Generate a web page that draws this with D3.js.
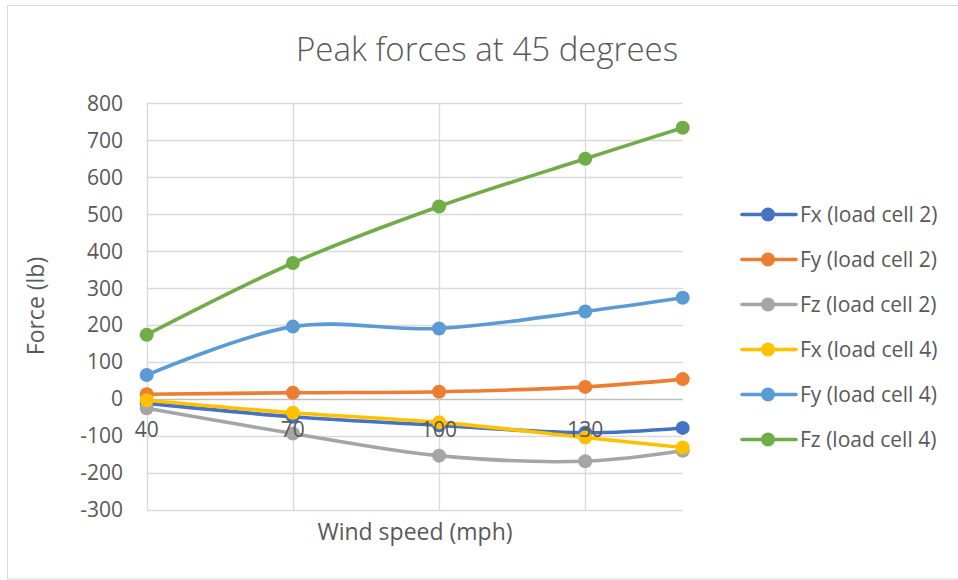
<!DOCTYPE html>
<html><head><meta charset="utf-8">
<script src="https://cdn.jsdelivr.net/npm/d3@7"></script>
<style>
html,body{margin:0;padding:0;background:#fff;}
svg{display:block;font-family:"Open Sans",sans-serif;}
</style></head>
<body><svg id="c" width="958" height="580"></svg>
<script>
const windSpeeds = [40, 70, 100, 130, 150];
const seriesNames = ["Fx (load cell 2)", "Fy (load cell 2)", "Fz (load cell 2)", "Fx (load cell 4)", "Fy (load cell 4)", "Fz (load cell 4)"];
const fx2 = [-11, -48, -71, -91, -78];
const fy2 = [13, 17, 20, 33, 54];
const fz2 = [-25, -93, -153, -168, -140];
const fx4 = [-3, -37, -63, -104, -131];
const fy4 = [65, 196, 191, 237, 274];
const fz4 = [174, 368, 521, 650, 734];
const seriesColors = ["#4472C4", "#ED7D31", "#A5A5A5", "#FFC000", "#5B9BD5", "#70AD47"];
const xTicks = [40, 70, 100, 130];
const yTicks = [-300, -200, -100, 0, 100, 200, 300, 400, 500, 600, 700, 800];
const titleText = "Peak forces at 45 degrees";
const xTitle = "Wind speed (mph)";
const yTitle = "Force (lb)";

const allSeries = [fx2, fy2, fz2, fx4, fy4, fz4];
const svg = d3.select("#c");
const textColor = "#595959";

// chart border
svg.append("rect").attr("x", 7.5).attr("y", 5.5).attr("width", 960).attr("height", 573.5)
  .attr("fill", "#fff").attr("stroke", "#d9d9d9").attr("stroke-width", 1);

const x = d3.scaleLinear().domain([40, 150]).range([146.7, 682.7]);
const y = d3.scaleLinear().domain([-300, 800]).range([510, 103.3]);

// horizontal gridlines
svg.append("g").selectAll("line").data(yTicks).join("line")
  .attr("x1", x(40)).attr("x2", x(150))
  .attr("y1", d => Math.round(y(d)) + 0.5).attr("y2", d => Math.round(y(d)) + 0.5)
  .attr("stroke", d => d === 0 ? "#bfbfbf" : "#d9d9d9").attr("stroke-width", 1.3);
// vertical gridlines
svg.append("g").selectAll("line").data(xTicks).join("line")
  .attr("x1", d => Math.round(x(d)) + 0.5).attr("x2", d => Math.round(x(d)) + 0.5)
  .attr("y1", y(800)).attr("y2", y(-300))
  .attr("stroke", "#d9d9d9").attr("stroke-width", 1.3);

// y tick labels
svg.append("g").selectAll("text").data(yTicks).join("text")
  .attr("x", 123).attr("y", d => y(d)).attr("dy", "0.35em")
  .attr("text-anchor", "end").attr("fill", textColor).attr("font-size", 21)
  .text(d => d);

// series
const line = d3.line().x((d, i) => x(windSpeeds[i])).y(d => y(d)).curve(d3.curveCatmullRom.alpha(0.5));
allSeries.forEach((vals, si) => {
  const g = svg.append("g");
  g.append("path").attr("d", line(vals)).attr("fill", "none")
    .attr("stroke", seriesColors[si]).attr("stroke-width", 3.6).attr("stroke-linecap", "round");
  g.selectAll("circle").data(vals).join("circle")
    .attr("cx", (d, i) => x(windSpeeds[i])).attr("cy", d => y(d)).attr("r", 7)
    .attr("fill", seriesColors[si]);
});

// x tick labels (at y = 0 crossing)
svg.append("g").selectAll("text").data(xTicks).join("text")
  .attr("x", d => x(d)).attr("y", y(0) + 31).attr("dy", "0.35em")
  .attr("text-anchor", "middle").attr("fill", textColor).attr("font-size", 21)
  .text(d => d);

// titles
svg.append("text").attr("x", 487).attr("y", 61).attr("text-anchor", "middle")
  .attr("fill", textColor).attr("font-size", 33).attr("font-weight", 300).text(titleText);
svg.append("text").attr("x", 415).attr("y", 540).attr("text-anchor", "middle")
  .attr("fill", textColor).attr("font-size", 23).text(xTitle);
svg.append("text").attr("transform", "translate(36," + 306 + ") rotate(-90)").attr("text-anchor", "middle")
  .attr("dy", "0.35em").attr("fill", textColor).attr("font-size", 23).text(yTitle);

// legend
const lg = svg.append("g").selectAll("g").data(seriesNames).join("g")
  .attr("transform", (d, i) => "translate(0," + (214.5 + i * 45) + ")");
lg.append("line").attr("x1", 742).attr("x2", 796).attr("y1", 0).attr("y2", 0)
  .attr("stroke", (d, i) => seriesColors[i]).attr("stroke-width", 3.6).attr("stroke-linecap", "round");
lg.append("circle").attr("cx", 768).attr("cy", 0).attr("r", 7).attr("fill", (d, i) => seriesColors[i]);
lg.append("text").attr("x", 800).attr("y", 0).attr("dy", "0.35em").attr("fill", textColor)
  .attr("font-size", 21).text(d => d);
</script></body></html>
